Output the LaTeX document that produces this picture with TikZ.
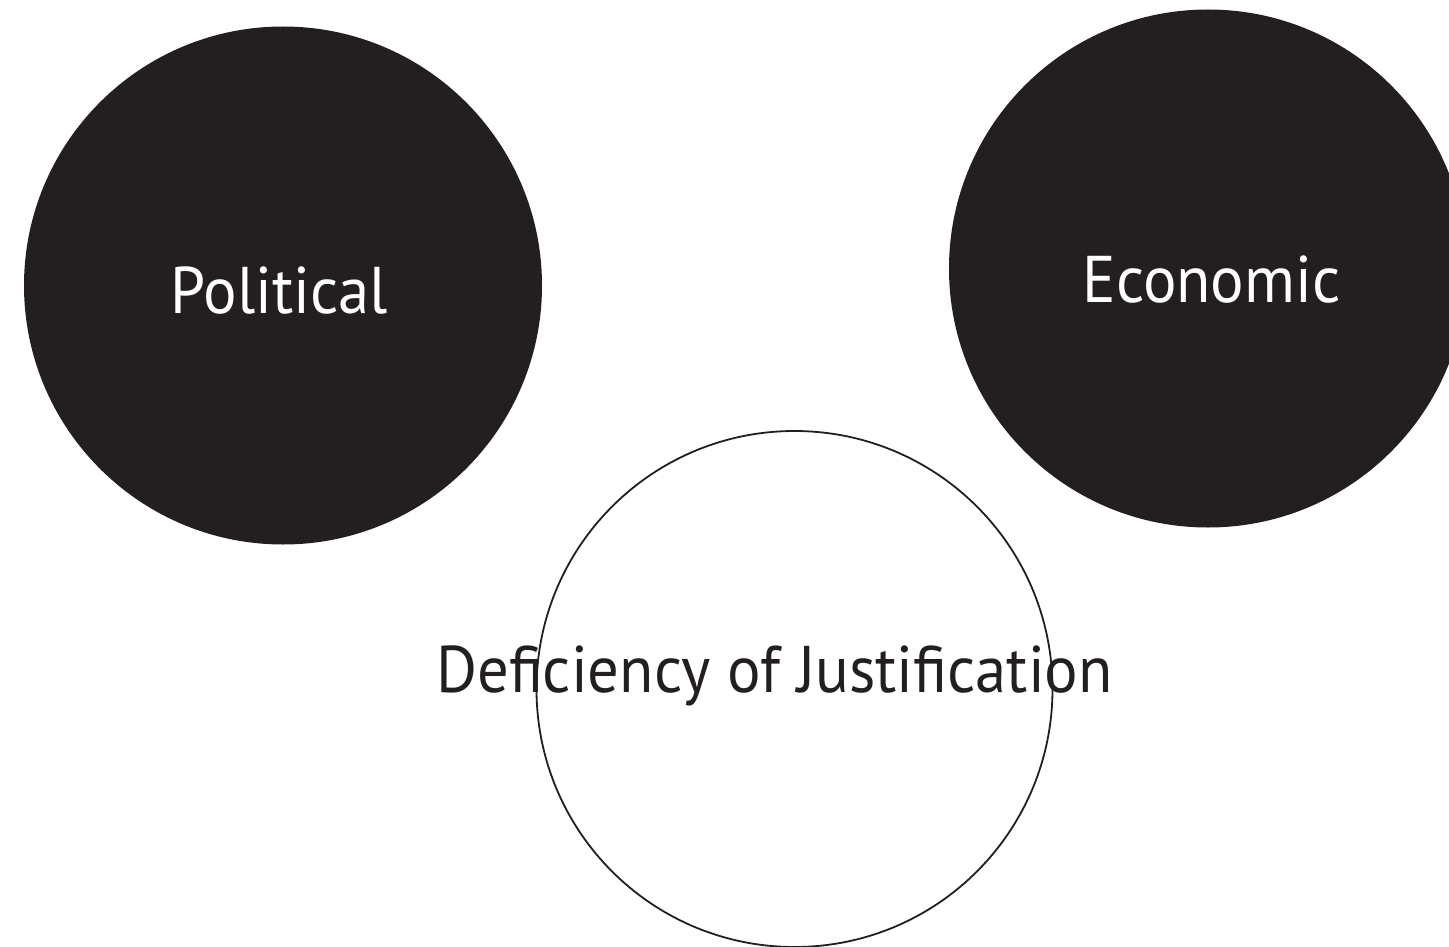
\documentclass[tikz,border=0pt]{standalone}
\usepackage{fontspec}
\setmainfont[FakeStretch=0.95]{PT Sans}
\definecolor{ink}{HTML}{231F20}
\begin{document}
\begin{tikzpicture}[x=1pt,y=-1pt,
  solid disc/.style={circle,fill=ink,draw=none,minimum size=518pt,inner sep=0pt},
  open disc/.style={circle,draw=ink,line width=1.8pt,minimum size=516pt,inner sep=0pt},
  label text/.style={anchor=base,inner sep=0pt,font=\fontsize{66}{70}\selectfont}]
\useasboundingbox (0,0) rectangle (1449,947);
\begin{scope}
\clip (0,0) rectangle (1449,947);
\node[solid disc] (pol) at (283,285.5) {};
\node[solid disc] (eco) at (1208,268.5) {};
\node[open disc] (def) at (794.5,689) {};
\end{scope}
\node[label text,text=white] (polt) at (279.5,313) {Political};
\node[label text,text=white] (ecot) at (1211.5,302) {Economic};
\node[label text,text=ink] (deft) at (774.5,692) {Deficiency of Justification};
\end{tikzpicture}
\end{document}
